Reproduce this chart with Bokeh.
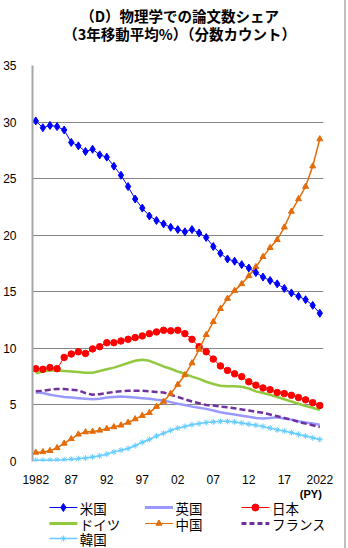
from bokeh.plotting import figure
from bokeh.models import Range1d, FixedTicker
from bokeh.layouts import column
from bokeh.embed import file_html
from bokeh.resources import INLINE
from bokeh.core.properties import value

# ---------------- data ----------------
years = list(range(1982, 2023))
usa = [30.1, 29.5, 29.7, 29.6, 29.3, 28.2, 27.9, 27.4, 27.6, 27.1, 26.9, 26.1, 25.3, 24.3, 23.2,
       22.4, 21.7, 21.3, 21.0, 20.7, 20.5, 20.3, 20.5, 20.2, 19.8, 19.0, 18.4, 17.9, 17.7, 17.4,
       17.1, 16.7, 16.3, 16.0, 15.7, 15.3, 14.9, 14.6, 14.3, 13.8, 13.1]
uk = [6.1, 6.05, 5.9, 5.8, 5.7, 5.65, 5.6, 5.55, 5.5, 5.55, 5.65, 5.7, 5.75, 5.7, 5.65,
      5.6, 5.55, 5.45, 5.4, 5.25, 5.1, 5.0, 4.85, 4.75, 4.65, 4.5, 4.35, 4.25, 4.15, 4.05,
      3.95, 3.85, 3.8, 3.85, 3.9, 3.8, 3.7, 3.55, 3.45, 3.35, 3.25]
japan = [8.2, 8.15, 8.3, 8.2, 9.2, 9.5, 9.7, 9.55, 9.95, 10.15, 10.5, 10.5, 10.65, 10.8, 10.95,
         11.1, 11.3, 11.45, 11.6, 11.55, 11.6, 11.3, 10.8, 10.15, 9.7, 9.05, 8.45, 8.05, 7.75, 7.5,
         7.05, 6.75, 6.5, 6.35, 6.1, 6.0, 5.85, 5.65, 5.45, 5.2, 4.95]
germany = [7.8, 7.95, 8.05, 8.05, 8.0, 7.95, 7.9, 7.85, 7.85, 8.0, 8.15, 8.3, 8.5, 8.7, 8.9,
           9.0, 8.9, 8.65, 8.4, 8.2, 7.95, 7.75, 7.5, 7.3, 7.05, 6.85, 6.7, 6.65, 6.65, 6.6,
           6.45, 6.2, 6.05, 5.9, 5.7, 5.5, 5.3, 5.1, 4.9, 4.75, 4.55]
china = [0.8, 0.85, 0.95, 1.2, 1.6, 2.0, 2.4, 2.6, 2.65, 2.75, 2.9, 3.05, 3.2, 3.45, 3.75,
         4.05, 4.3, 4.85, 5.3, 6.0, 6.8, 7.65, 8.7, 9.9, 11.2, 12.35, 13.5, 14.4, 15.1, 15.7,
         16.4, 17.2, 18.1, 18.9, 19.6, 20.7, 22.1, 23.2, 24.3, 26.1, 28.5]
france = [6.2, 6.25, 6.35, 6.4, 6.4, 6.35, 6.3, 6.05, 5.9, 5.95, 6.05, 6.15, 6.2, 6.25, 6.25,
          6.25, 6.2, 6.15, 6.1, 5.9, 5.7, 5.5, 5.3, 5.15, 5.0, 4.95, 4.85, 4.8, 4.7, 4.6,
          4.5, 4.4, 4.3, 4.15, 4.0, 3.85, 3.7, 3.5, 3.35, 3.2, 3.05]
korea = [0.1, 0.1, 0.12, 0.13, 0.15, 0.2, 0.25, 0.3, 0.4, 0.5, 0.65, 0.85, 1.0, 1.15, 1.4,
         1.7, 1.95, 2.25, 2.5, 2.75, 2.95, 3.1, 3.25, 3.35, 3.45, 3.5, 3.55, 3.55, 3.5, 3.4,
         3.3, 3.2, 3.1, 2.95, 2.8, 2.7, 2.55, 2.4, 2.25, 2.1, 1.95]

names = ["米国", "英国", "日本", "ドイツ", "中国", "フランス", "韓国"]
x_tick_values = [1982, 1987, 1992, 1997, 2002, 2007, 2012, 2017, 2022]
x_tick_labels = ["1982", "87", "92", "97", "02", "07", "12", "17", "2022"]
y_tick_values = [0, 5, 10, 15, 20, 25, 30, 35]
title_lines = ["（D）物理学での論文数シェア", "（3年移動平均%）（分数カウント）"]
x_unit_label = "(PY)"

# ---------------- styles ----------------
C_US = "#0000FF"
C_UK = "#9999FF"
C_JP = "#FF0000"
C_DE = "#92C83E"
C_CN = "#E46C0A"
C_FR = "#7030A0"
C_KR = "#66CCFF"
JP_FONT = "Noto Sans CJK JP"

W = 344                      # figure width (page border drawn at the right)
H_TITLE, H_MAIN, H_LEG = 50, 436, 62
FL, FR, FT, FB = 30, 323, 15, 412   # frame edges inside the main figure
X0, X1, Y0, Y1 = 1981.54, 2022.52, 0, 35


def bare(fig):
    fig.outline_line_color = None
    fig.xgrid.visible = False
    fig.ygrid.visible = False
    fig.background_fill_color = "white"
    fig.border_fill_color = "white"
    return fig


def text_fig(h):
    f = figure(width=W, height=h, output_backend="svg", toolbar_location=None,
               x_range=Range1d(0, W), y_range=Range1d(h, 0),
               x_axis_location=None, y_axis_location=None,
               min_border_left=0, min_border_right=0, min_border_top=0, min_border_bottom=0)
    return bare(f)


# ---------------- title ----------------
tfig = text_fig(H_TITLE)
tfig.text([174, 174], [15, 33], text=title_lines, text_align="center", text_baseline="middle",
          text_font=value(JP_FONT), text_font_size="14.5px", text_font_style="bold",
          text_color="black")

# ---------------- main chart ----------------
p = figure(width=W, height=H_MAIN, output_backend="svg", toolbar_location=None,
           x_range=Range1d(X0, X1), y_range=Range1d(Y0, Y1),
           min_border_left=FL, min_border_right=W - FR, min_border_top=FT,
           min_border_bottom=H_MAIN - FB)
bare(p)

p.xaxis.ticker = FixedTicker(ticks=x_tick_values)
p.xaxis.major_label_overrides = {v: l for v, l in zip(x_tick_values, x_tick_labels)}
p.xaxis.axis_line_color = None
p.xaxis.major_tick_line_color = None
p.xaxis.minor_tick_line_color = None
p.xaxis.major_label_standoff = 7
p.xaxis.major_label_text_font = "Liberation Sans"
p.xaxis.major_label_text_font_size = "12px"
p.xaxis.major_label_text_color = "black"

p.yaxis.ticker = FixedTicker(ticks=y_tick_values)
p.yaxis.axis_line_color = "#A6A6A6"
p.yaxis.axis_line_width = 2
p.yaxis.major_tick_line_color = None
p.yaxis.minor_tick_line_color = None
p.yaxis.major_label_standoff = 10
p.yaxis.major_label_text_font = "Liberation Sans"
p.yaxis.major_label_text_font_size = "12px"
p.yaxis.major_label_text_color = "black"

p.ygrid.visible = True
p.ygrid.ticker = FixedTicker(ticks=y_tick_values)
p.ygrid.grid_line_color = "#858585"
p.ygrid.grid_line_width = 1

p.line(years, korea, color=C_KR, line_width=1.5)
p.scatter(years, korea, marker="asterisk", size=6, line_color=C_KR, line_width=1)
p.line(years, uk, color=C_UK, line_width=2.5)
p.line(years, france, color=C_FR, line_width=2.5, line_dash="6 3")
p.line(years, germany, color=C_DE, line_width=2.5)
p.line(years, japan, color=C_JP, line_width=1)
p.scatter(years, japan, marker="circle", size=6.5, color=C_JP)
p.line(years, china, color=C_CN, line_width=1.5)
p.scatter(years, china, marker="triangle", size=6, color=C_CN)
p.line(years, usa, color=C_US, line_width=1)
p.scatter(years, usa, marker="diamond", size=8, color=C_US)

# ---------------- legend + unit ----------------
leg = text_fig(H_LEG)
leg.text([329], [7], text=[x_unit_label], text_align="center", text_baseline="middle",
         text_font=value("Liberation Sans"), text_font_size="11px", text_font_style="bold",
         text_color="black")

col_x = [20, 133, 247]
row_y = [21, 37, 52]
seg_len = 33
styles = [
    dict(color=C_US, width=1, dash="solid", marker="diamond", msize=8),
    dict(color=C_UK, width=3, dash="solid", marker=None, msize=0),
    dict(color=C_JP, width=1, dash="solid", marker="circle", msize=7),
    dict(color=C_DE, width=3, dash="solid", marker=None, msize=0),
    dict(color=C_CN, width=1, dash="solid", marker="triangle", msize=6),
    dict(color=C_FR, width=3, dash="5 3", marker=None, msize=0),
    dict(color=C_KR, width=1.5, dash="solid", marker="asterisk", msize=6),
]
for i, (name, st) in enumerate(zip(names, styles)):
    cx = col_x[i % 3]
    cy = row_y[i // 3]
    leg.line([cx, cx + seg_len], [cy, cy], line_color=st["color"], line_width=st["width"],
             line_dash=st["dash"])
    if st["marker"]:
        leg.scatter([cx + seg_len / 2], [cy], marker=st["marker"], size=st["msize"],
                    color=st["color"], line_color=st["color"])
    leg.text([cx + seg_len + 3], [cy], text=[name], text_baseline="middle",
             text_font=value(JP_FONT), text_font_size="13.5px", text_color="black")

layout = column(tfig, p, leg, spacing=0)
layout.styles = {"border-right": "2px solid #BFBFBF"}
open("out.html", "w").write(file_html(layout, INLINE))
